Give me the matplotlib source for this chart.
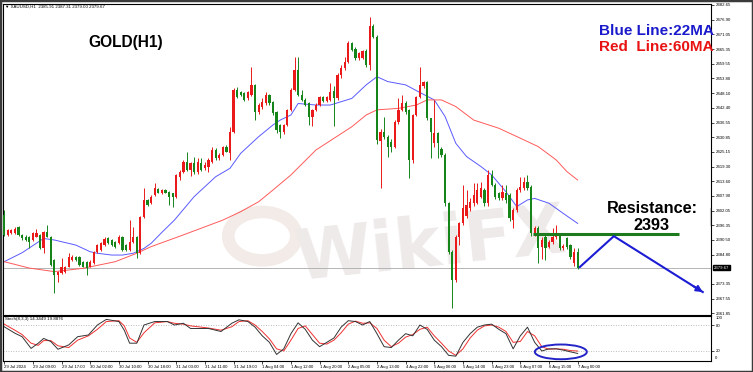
import matplotlib
matplotlib.use('Agg')
import matplotlib.pyplot as plt
from matplotlib.patches import Ellipse, Rectangle, Circle
from matplotlib.lines import Line2D
import matplotlib.transforms as mtransforms
import numpy as np

# ---------------- data ----------------
opens = [2400.3, 2392.5, 2393.1, 2393.1, 2395.7, 2392.5, 2391.8, 2391.8, 2390.5, 2391.8,
         2392.5, 2387.2, 2393.8, 2391.8, 2382.6, 2376.8, 2377.4, 2378.1, 2380.0, 2382.6,
         2384.0, 2384.0, 2382.0, 2382.0, 2380.0, 2381.3, 2385.9, 2386.6, 2388.5, 2391.2,
         2390.5, 2389.8, 2389.2, 2391.8, 2388.5, 2386.6, 2389.8, 2391.8, 2385.3, 2399.6,
         2406.2, 2404.9, 2408.1, 2410.5, 2409.0, 2410.0, 2409.4, 2408.8, 2407.5, 2415.3,
         2417.3, 2421.2, 2417.9, 2420.6, 2417.0, 2420.6, 2418.6, 2419.2, 2421.2, 2425.8,
         2422.5, 2423.8, 2427.1, 2424.5, 2433.0, 2449.3, 2448.6, 2448.0, 2446.0, 2447.3,
         2451.3, 2440.8, 2442.8, 2444.0, 2447.3, 2444.7, 2440.8, 2435.6, 2433.0, 2435.6,
         2441.5, 2449.3, 2457.2, 2447.4, 2445.4, 2444.1, 2438.9, 2441.5, 2443.5, 2446.7,
         2445.1, 2445.4, 2449.0, 2446.0, 2455.2, 2457.8, 2460.4, 2467.6, 2465.3, 2461.7,
         2462.0, 2464.4, 2459.1, 2474.2, 2470.2, 2429.2, 2433.0, 2431.0, 2429.0, 2427.1,
         2436.9, 2441.5, 2444.1, 2441.5, 2421.9, 2439.5, 2446.7, 2451.0, 2452.6, 2438.2,
         2428.4, 2432.3, 2426.0, 2423.8, 2404.9, 2385.9, 2374.8, 2391.8, 2397.0, 2400.0,
         2402.9, 2404.9, 2405.0, 2407.5, 2410.1, 2404.9, 2416.0, 2412.1, 2408.8, 2406.8,
         2408.8, 2408.1, 2398.3, 2402.3, 2410.1, 2410.8, 2413.4, 2411.4, 2392.5, 2395.1,
         2387.9, 2391.8, 2387.9, 2389.8, 2391.8, 2392.5, 2387.2, 2391.1, 2388.5, 2381.4,
         2385.91]
highs = [2402.3, 2395.0, 2395.0, 2395.7, 2396.0, 2393.0, 2392.4, 2392.0, 2393.5, 2395.0,
         2393.0, 2394.0, 2396.4, 2392.0, 2383.0, 2378.5, 2383.3, 2380.5, 2385.3, 2384.5,
         2384.3, 2384.3, 2382.3, 2382.3, 2382.5, 2386.3, 2389.0, 2389.8, 2391.5, 2391.8,
         2391.0, 2390.3, 2392.4, 2392.0, 2389.0, 2398.3, 2395.7, 2392.2, 2400.0, 2410.8,
         2406.5, 2408.0, 2412.7, 2410.8, 2410.5, 2410.3, 2409.8, 2409.0, 2416.5, 2417.8,
         2422.0, 2425.1, 2421.0, 2423.0, 2422.5, 2422.5, 2421.0, 2422.5, 2427.1, 2426.5,
         2424.5, 2427.5, 2427.8, 2434.9, 2450.0, 2450.5, 2449.0, 2448.5, 2449.0, 2458.5,
         2451.5, 2444.0, 2446.0, 2448.6, 2447.8, 2445.0, 2441.0, 2436.0, 2436.0, 2442.0,
         2450.0, 2462.4, 2462.4, 2449.3, 2446.0, 2444.5, 2442.0, 2444.0, 2447.0, 2447.0,
         2447.0, 2452.0, 2451.0, 2456.0, 2459.0, 2462.4, 2468.5, 2468.3, 2466.0, 2464.0,
         2465.0, 2465.5, 2478.1, 2475.0, 2471.0, 2434.0, 2438.9, 2431.5, 2430.0, 2437.5,
         2446.1, 2447.4, 2445.0, 2442.0, 2440.0, 2447.0, 2458.5, 2453.0, 2453.0, 2438.5,
         2445.4, 2433.0, 2427.0, 2424.5, 2405.5, 2386.5, 2392.5, 2397.5, 2412.1, 2410.0,
         2407.0, 2412.7, 2412.7, 2413.4, 2411.0, 2418.0, 2418.0, 2413.0, 2409.5, 2412.0,
         2412.0, 2409.0, 2403.0, 2411.0, 2415.3, 2415.3, 2416.0, 2412.0, 2396.0, 2396.0,
         2391.5, 2392.5, 2390.5, 2395.1, 2396.4, 2393.0, 2388.8, 2391.5, 2389.0, 2387.2,
         2387.31]
lows = [2392.0, 2392.0, 2392.8, 2392.8, 2392.0, 2390.5, 2390.0, 2387.2, 2390.0, 2391.5,
        2386.8, 2385.3, 2391.5, 2380.5, 2369.6, 2374.2, 2377.0, 2377.5, 2379.8, 2382.3,
        2382.3, 2380.3, 2379.8, 2376.8, 2379.8, 2381.0, 2385.5, 2386.2, 2388.2, 2389.0,
        2388.0, 2387.5, 2388.8, 2386.2, 2386.2, 2386.2, 2389.5, 2383.3, 2385.0, 2399.3,
        2403.8, 2404.5, 2407.8, 2408.8, 2408.6, 2408.8, 2404.2, 2403.6, 2407.0, 2414.0,
        2416.8, 2417.5, 2415.5, 2416.5, 2416.5, 2417.5, 2418.0, 2417.0, 2420.8, 2422.0,
        2422.0, 2423.5, 2424.8, 2421.9, 2432.5, 2446.0, 2447.0, 2445.0, 2445.5, 2447.0,
        2437.5, 2440.0, 2442.0, 2443.5, 2443.5, 2439.5, 2432.5, 2430.4, 2432.0, 2435.0,
        2441.0, 2449.0, 2447.0, 2445.0, 2443.0, 2435.6, 2435.0, 2441.0, 2443.0, 2444.5,
        2444.5, 2445.0, 2435.0, 2445.5, 2454.0, 2457.0, 2460.0, 2464.5, 2461.0, 2461.0,
        2461.5, 2458.5, 2457.0, 2469.5, 2428.0, 2410.8, 2430.0, 2423.2, 2425.0, 2426.5,
        2436.0, 2441.0, 2440.0, 2414.7, 2420.6, 2439.0, 2446.0, 2450.0, 2437.5, 2422.5,
        2427.0, 2422.5, 2423.0, 2404.0, 2385.0, 2363.7, 2374.0, 2388.5, 2396.5, 2399.0,
        2402.0, 2404.0, 2404.5, 2407.0, 2404.0, 2404.0, 2411.5, 2406.5, 2406.0, 2406.0,
        2405.0, 2398.0, 2395.1, 2401.5, 2409.5, 2410.0, 2410.0, 2392.0, 2392.0, 2381.4,
        2383.0, 2382.7, 2387.5, 2389.0, 2391.0, 2386.5, 2386.5, 2387.0, 2383.0, 2380.5,
        2379.00]
closes = [2392.5, 2394.4, 2394.4, 2395.0, 2392.5, 2391.2, 2390.5, 2389.8, 2393.1, 2393.1,
          2387.2, 2393.8, 2391.8, 2380.7, 2376.8, 2378.1, 2380.0, 2380.0, 2384.0, 2384.0,
          2382.6, 2380.7, 2380.0, 2379.4, 2382.0, 2385.9, 2388.5, 2389.2, 2390.8, 2389.2,
          2388.5, 2387.9, 2391.8, 2386.6, 2386.6, 2389.8, 2391.8, 2385.3, 2399.6, 2406.2,
          2404.2, 2407.5, 2410.8, 2409.1, 2410.0, 2409.0, 2407.5, 2407.5, 2416.0, 2417.3,
          2421.2, 2417.9, 2420.6, 2417.0, 2421.2, 2417.9, 2419.9, 2421.9, 2425.8, 2422.5,
          2423.8, 2427.1, 2425.1, 2433.0, 2449.3, 2446.7, 2447.3, 2445.4, 2448.6, 2451.3,
          2440.8, 2443.4, 2444.7, 2447.3, 2444.1, 2440.2, 2433.6, 2433.0, 2435.6, 2441.5,
          2449.3, 2457.2, 2447.4, 2445.4, 2443.5, 2438.9, 2441.5, 2443.5, 2446.7, 2445.1,
          2446.4, 2448.7, 2446.0, 2455.2, 2457.8, 2460.4, 2467.6, 2465.0, 2461.7, 2463.7,
          2464.4, 2459.1, 2474.2, 2470.2, 2429.7, 2433.0, 2431.0, 2427.1, 2427.1, 2436.9,
          2441.5, 2444.1, 2440.8, 2421.9, 2439.5, 2446.7, 2451.3, 2452.6, 2438.2, 2433.0,
          2432.3, 2428.4, 2423.8, 2404.9, 2385.9, 2374.8, 2391.8, 2397.0, 2402.9, 2404.2,
          2405.5, 2408.1, 2410.1, 2410.8, 2404.9, 2416.0, 2412.1, 2407.5, 2406.8, 2409.5,
          2406.2, 2399.0, 2402.3, 2410.1, 2411.4, 2413.4, 2410.8, 2393.1, 2395.1, 2387.2,
          2390.5, 2387.2, 2389.8, 2391.8, 2393.1, 2387.2, 2388.1, 2387.9, 2384.0, 2385.9,
          2379.67]

ma22_idx = [0, 5, 11, 14, 20, 24, 26, 30, 33, 36, 39, 41, 44, 47.5, 53, 59, 63, 66, 71, 75,
            77, 80, 82, 87, 91, 97, 101, 104, 107, 112, 116, 120, 123, 126, 129, 133, 136, 140,
            143, 146, 148, 152, 156, 160]
ma22_val = [2382.0, 2385.5, 2391.1, 2390.5, 2388.5, 2385.9, 2385.3, 2384.6, 2384.6, 2385.3,
            2387.2, 2389.2, 2393.5, 2398.3, 2407.5, 2415.3, 2418.6, 2424.5, 2431.0, 2435.6,
            2437.5, 2439.5, 2444.0, 2443.4, 2443.4, 2446.0, 2451.3, 2454.5, 2452.6, 2451.3,
            2448.3, 2445.4, 2438.9, 2428.4, 2423.2, 2419.3, 2416.0, 2409.4, 2403.6, 2406.2,
            2406.8, 2404.9, 2400.9, 2397.0]
ma60_idx = [0, 7, 14, 22, 31, 37, 41, 50, 61, 66, 71, 75, 80, 87, 97, 101, 104, 110, 115, 118,
            122, 126, 131, 138, 144, 149, 154, 157, 160]
ma60_val = [2382.0, 2379.5, 2378.1, 2379.4, 2382.0, 2385.3, 2387.9, 2392.5, 2398.3, 2401.6,
            2405.5, 2410.1, 2416.0, 2425.8, 2434.9, 2439.5, 2441.5, 2442.1, 2443.4, 2445.4,
            2445.4, 2442.8, 2437.5, 2434.3, 2430.4, 2427.1, 2421.9, 2417.3, 2414.0]

stoch_idx = [0, 3, 5, 7.5, 9.5, 11, 13, 15, 18, 20.5, 23.5, 26, 28.5, 32, 33.5, 35, 37, 39, 42,
             45.5, 47.5, 50, 52, 57, 60.5, 63.5, 65.5, 68, 70, 72, 74, 76, 78, 80, 82, 84, 86,
             88, 90, 92, 94, 96, 98, 100, 102, 104, 106, 108, 110, 112, 114, 116, 118, 120, 122,
             124, 126, 128, 130, 132, 134, 136, 138, 140, 142, 144, 146, 148, 150, 152, 154,
             156, 158, 160]
stoch_k = [76, 61, 53, 26, 38, 49, 42, 24, 34, 53, 57, 80, 93, 88, 68, 38, 38, 80, 88, 88,
           80, 84, 72, 72, 65, 84, 92, 88, 75, 55, 40, 12, 25, 60, 85, 70, 45, 30, 40, 50,
           75, 90, 88, 80, 88, 60, 30, 28, 45, 60, 55, 80, 70, 45, 30, 10, 8, 40, 60, 75,
           80, 82, 70, 60, 25, 55, 75, 40, 20, 25, 25, 22, 18, 14.34]
stoch_d = [82, 68, 58, 38, 33, 44, 44, 32, 28, 45, 55, 70, 88, 90, 78, 50, 40, 62, 85, 88,
           84, 82, 78, 73, 68, 76, 88, 90, 80, 65, 48, 25, 20, 45, 72, 78, 58, 38, 36, 45,
           62, 82, 89, 84, 85, 72, 45, 30, 38, 52, 58, 70, 75, 55, 38, 20, 10, 25, 50, 68,
           78, 80, 75, 65, 40, 42, 65, 55, 30, 24, 25, 24, 21, 19.89]

price_ticks = [2482.65, 2476.90, 2471.05, 2465.35, 2459.55, 2453.80, 2448.10, 2442.40,
               2436.55, 2430.85, 2425.15, 2419.30, 2413.60, 2407.90, 2402.05, 2396.35,
               2390.50, 2384.80, 2373.35, 2367.55, 2361.85]
time_labels = ["29 Jul 2024", "29 Jul 09:00", "29 Jul 17:00", "30 Jul 02:00", "30 Jul 10:00",
               "30 Jul 18:00", "31 Jul 03:00", "31 Jul 11:00", "31 Jul 19:00", "1 Aug 04:00",
               "1 Aug 12:00", "1 Aug 20:00", "2 Aug 05:00", "2 Aug 13:00", "4 Aug 22:00",
               "5 Aug 06:00", "5 Aug 14:00", "5 Aug 23:00", "6 Aug 07:00", "6 Aug 15:00",
               "7 Aug 00:00"]
bars_per_label = 8
resistance = 2393
arrow_x = [160.6, 170.1, 194.9]
arrow_y = [2379.9, 2392.0, 2370.1]
res_line_x = [147.5, 188.2]

# ---------------- figure ----------------
W, H = 753, 372
fig = plt.figure(figsize=(W / 100, H / 100), dpi=100)
fig.patch.set_facecolor('white')

def fx(px):
    return px / W

def fy(py):
    return 1 - py / H

ax = fig.add_axes([fx(3), fy(315), fx(711) - fx(3), fy(4) - fy(315)])
ax2 = fig.add_axes([fx(3), fy(361), fx(711) - fx(3), fy(316) - fy(361)], sharex=ax)

o = np.array(opens); h = np.array(highs); l = np.array(lows); c = np.array(closes)
x = np.arange(len(c))
up = c >= o
RED = '#ea1a1a'
GRN = '#15851a'
cols = np.where(up, RED, GRN)

# faint watermark
ax.add_patch(Circle((72, 2392), 9.5, transform=ax.transData, facecolor='none',
                    edgecolor='#f2ebe7', lw=9, zorder=0))
ax.text(119, 2388, 'WikiFX', fontsize=50, fontweight='bold', color='#eeeae9',
        ha='center', va='center', rotation=6, zorder=0, family='DejaVu Sans')

ax.axhline(c[-1], color='#b4b4b4', lw=0.7, zorder=1)
ax.vlines(x, l, h, colors=cols, lw=0.7, zorder=3)
body_b = np.minimum(o, c)
body_h = np.maximum(np.abs(c - o), 0.25)
ax.bar(x, body_h, bottom=body_b, width=0.62, color=cols, linewidth=0, zorder=4)

ax.plot(ma22_idx, ma22_val, color='#5a5aff', lw=0.7, zorder=2)
ax.plot(ma60_idx, ma60_val, color='#ff5a5a', lw=0.7, zorder=2)

# resistance line and arrow
ax.plot(res_line_x, [resistance, resistance], color='#1d7a1d', lw=2.2, zorder=5,
        solid_capstyle='butt')
ax.plot(arrow_x, arrow_y, color='#1c1cd4', lw=1.5, zorder=6)
ax.annotate('', xy=(arrow_x[2], arrow_y[2]), xytext=(arrow_x[2] - 2.5, arrow_y[2] + 2.2),
            arrowprops=dict(arrowstyle='-|>', color='#1c1cd4', lw=1.5,
                            mutation_scale=9, shrinkA=0, shrinkB=0), zorder=6)

ax.set_xlim(-0.33, 197.2)
ax.set_ylim(2361.1, 2483.0)

TICKFONT = dict(family='Liberation Sans', size=3.1)
ax.yaxis.tick_right()
ax.set_yticks(price_ticks)
ax.set_yticklabels(['%.2f' % v for v in price_ticks], fontdict=TICKFONT)
ax.tick_params(axis='y', length=2, width=0.5, pad=1.5, colors='black')
ax.tick_params(axis='x', bottom=False, labelbottom=False)
for s in ax.spines.values():
    s.set_color('black'); s.set_linewidth(0.8)

trans = mtransforms.blended_transform_factory(ax.transAxes, ax.transData)
ax.text(1.004, c[-1], '%.2f' % c[-1], transform=trans, fontsize=3.1, color='white',
        family='Liberation Sans', va='center', ha='left',
        bbox=dict(boxstyle='square,pad=0.2', facecolor='black', edgecolor='black'))

# small scroll marker near the right edge
fig.add_artist(Line2D([fx(709.5), fx(709.5)], [fy(208), fy(225)], color='#c8c8c8', lw=0.8))

# stochastic
ax2.axhline(80, color='#a8a8a8', lw=0.6, ls=(0, (1, 2)))
ax2.axhline(20, color='#a8a8a8', lw=0.6, ls=(0, (1, 2)))
ax2.plot(stoch_idx, stoch_d, color='#f03030', lw=0.7)
ax2.plot(stoch_idx, stoch_k, color='#333333', lw=0.7)
ax2.set_ylim(-3.1, 100.8)
ax2.yaxis.tick_right()
ax2.set_yticks([80, 20])
ax2.set_yticklabels(['80', '20'], fontdict=TICKFONT)
ax2.tick_params(axis='y', length=2, width=0.5, pad=1.5)
axis_tr2 = mtransforms.blended_transform_factory(ax2.transAxes, ax2.transData)
ax2.text(1.006, 96, '100', transform=axis_tr2, fontsize=3.1, family='Liberation Sans',
         va='center', ha='left')
ax2.text(1.006, 4, '0', transform=axis_tr2, fontsize=3.1, family='Liberation Sans',
         va='center', ha='left')
ax2.add_patch(Ellipse((155.3, 18), 14.5, 34, facecolor='none', edgecolor='#2424c8',
                      lw=1.4, zorder=6, clip_on=False))
ticks_x = np.arange(len(time_labels)) * bars_per_label
ax2.set_xticks(ticks_x)
ax2.set_xticklabels(time_labels, ha='left', fontdict=TICKFONT)
ax2.tick_params(axis='x', length=2, width=0.5, pad=1.0)
for s in ax2.spines.values():
    s.set_color('black'); s.set_linewidth(0.8)
ax2.text(0.003, 0.97, 'Stoch(8,3,3) 14.3449 19.8876', transform=ax2.transAxes,
         fontsize=3.2, family='Liberation Sans', va='top', ha='left')

# titles / annotations
fig.text(fx(125.5), fy(42), 'GOLD(H1)', fontsize=11.2, fontweight='bold',
         family='Liberation Sans', ha='center', va='center')
fig.text(fx(599), fy(31), 'Blue Line:22MA', fontsize=11, fontweight='bold',
         family='Liberation Sans', color='#1a1acc', ha='left', va='center')
fig.text(fx(599), fy(47), 'Red  Line:60MA', fontsize=11, fontweight='bold',
         family='Liberation Sans', color='#e81212', ha='left', va='center')
fig.text(fx(652), fy(209), 'Resistance:', fontsize=11.7, fontweight='bold',
         family='Liberation Sans', ha='center', va='center')
fig.text(fx(652), fy(225), '2393', fontsize=11.7, fontweight='bold',
         family='Liberation Sans', ha='center', va='center')
fig.text(fx(5), fy(6.5), '\u25BC XAUUSD,H1  2385.91 2387.31 2379.00 2379.67', fontsize=3.2,
         family=['Liberation Sans', 'DejaVu Sans'], ha='left', va='center')

fig.add_artist(Rectangle((0, 0), 1, 1, transform=fig.transFigure, fill=False,
                         edgecolor='#3a3a3a', lw=2.5))

fig.savefig('out.png', dpi=100, facecolor='white')
